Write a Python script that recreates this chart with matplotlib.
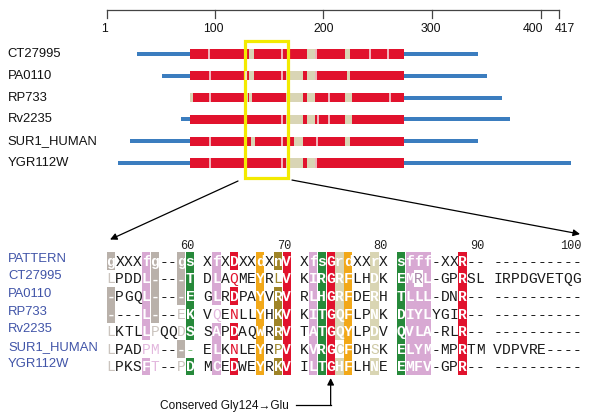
import matplotlib
matplotlib.use('Agg')
import matplotlib.pyplot as plt
from matplotlib.patches import Rectangle

# ---------------- data: domain overview ----------------
proteins = ['CT27995', 'PA0110', 'RP733', 'Rv2235', 'SUR1_HUMAN', 'YGR112W']
line_start = [29, 52, 77, 69, 22, 11]
line_end = [342, 351, 364, 372, 342, 428]
domain_start = [77.4, 77.4, 77.4, 77.4, 77.4, 77.4]
domain_end = [274, 274, 274, 274, 274, 274]
beige_segments = [
    [(132, 136), (185, 192), (220, 224.5)],
    [(131.6, 136.2), (165.5, 181), (184.7, 192.4), (221.5, 224.5)],
    [(77.4, 80.5), (129.5, 131), (132, 134.7), (165.5, 181), (184.7, 192.4), (220, 226)],
    [(165.5, 181), (184.7, 192.4), (220, 226)],
    [(133.2, 137.4), (173, 181), (220, 224.5)],
    [(165.5, 181), (184.7, 192.4)],
]
gap_positions = [
    [95, 162, 193.5, 243, 259.5],
    [95.5, 128.5, 162, 193.5],
    [95.5, 205, 261.4],
    [162, 195.5, 205],
    [95.5, 162, 194.5],
    [95.5, 162, 193.5],
]
ruler_ticks = [1, 100, 200, 300, 400, 417]
ruler_label_shift = [-2, -1, 0, -1, -7, 5]   # residue units, to keep 400/417 apart
zoom_region = (128, 167.8)

# ---------------- data: alignment ----------------
align_names = ['PATTERN', 'CT27995', 'PA0110', 'RP733', 'Rv2235', 'SUR1_HUMAN', 'YGR112W']
align_seqs = [
    'gXXXfg--gs' 'XfXDXXdXnV' 'XfsGrdXXrX' 'sfff-XXR--' '----------',
    'LPDDL----T' 'DLAQMEYRLV' 'KIRGRFLHDK' 'EMRL-GPRSL' 'IRPDGVETQG',
    '-PGQL----E' 'GLRDPAYVRV' 'RLHGRFDERH' 'TLLL-DNR--' '----------',
    '----L---EK' 'VQENLLYHKV' 'KITGQFLPNK' 'DIYLYGIR--' '----------',
    'LKTLLPQQDS' 'SAPDAQWRRV' 'TATGQYLPDV' 'QVLA-RLR--' '----------',
    'LPADPM----' 'ELKNLEYRPV' 'KVRGCFDHSK' 'ELYM-MPRTM' 'VDPVRE----',
    'LPKSFT--PD' 'MCEDWEYRKV' 'ILTGHFLHNE' 'EMFV-GPR--' '----------',
]
pos_labels = ['60', '70', '80', '90', '100']
pos_label_cols = [10, 20, 30, 40, 50]
# (column 1-based, colour class, per-row flags: B = boxed, t = tinted text, . = plain)
shading = [
    (1, 'gray', 'BtBBttt'),
    (5, 'pink', 'BBBBBtB'),
    (6, 'gray', 'BBBBt..'),
    (6, 'pink', '.....tt'),
    (9, 'gray', 'BBBttBt'),
    (10, 'green', 'BBBBBtB'),
    (12, 'pink', 'BBBtBBB'),
    (14, 'red', 'BtBtBtB'),
    (17, 'orange', 'BBBBBBB'),
    (19, 'olive', 'BtBBBtB'),
    (20, 'red', 'BBBBBBB'),
    (22, 'pink', 'BBBBBBB'),
    (23, 'green', 'BBBBBBB'),
    (24, 'red', 'BBBBBBB'),
    (25, 'beige', 'BBBBBtB'),
    (26, 'orange', 'BBBBBBB'),
    (29, 'beige', 'BBBBBtB'),
    (31, 'green', 'BBBBBBB'),
    (32, 'pink', 'BBBBBBB'),
    (33, 'pink', 'BtBBBBB'),
    (34, 'pink', 'BBBBBBB'),
    (38, 'red', 'BBBBBBB'),
]
box_colors = {'gray': '#b9b1aa', 'pink': '#d8a9d3', 'green': '#26893a', 'red': '#e1122d',
              'orange': '#f2a818', 'olive': '#9f8427', 'beige': '#d9d5b3'}
tint_colors = {'gray': '#cbc4be', 'pink': '#e3b8de', 'green': '#7fbf7f', 'red': '#e1122d',
               'orange': '#f2a818', 'olive': '#a08a30', 'beige': '#cfcaa6'}
mutation_col = 24
mutation_text = 'Conserved Gly124\u2192Glu'

SANS = ['Liberation Sans', 'DejaVu Sans']
MONO = ['Liberation Mono', 'DejaVu Sans Mono']
RED = '#e1122d'
BEIGE = '#d9d5b5'
BLUE = '#3b7dbf'
LABEL_BLUE = '#4054a8'

fig = plt.figure(figsize=(6, 4.15), dpi=100)

# ---------------- top panel ----------------
ax = fig.add_axes([0, 0, 1, 1])
ax.set_xlim(-97.4, 454.5)
ax.set_ylim(16.56, -2.477)
ax.axis('off')

ruler_y = -2.04
ax.plot([ruler_ticks[0], ruler_ticks[-1]], [ruler_y, ruler_y], color='#444444', lw=0.9)
for t, s in zip(ruler_ticks, ruler_label_shift):
    ax.plot([t, t], [ruler_y, -1.63], color='#444444', lw=0.9)
    ax.text(t + s, -1.15, str(t), ha='center', va='center', fontsize=8.8, family=SANS,
            color='#111111')

for i, name in enumerate(proteins):
    ax.text(-90.5, i, name, ha='left', va='center', fontsize=9.4, family=SANS, color='#111111')
    ax.barh(i, line_end[i] - line_start[i], left=line_start[i], height=0.18, color=BLUE, lw=0)
    ax.barh(i, domain_end[i] - domain_start[i], left=domain_start[i], height=0.42, color=RED, lw=0)
    for a, b in beige_segments[i]:
        ax.barh(i, b - a, left=a, height=0.42, color=BEIGE, lw=0)
    for g in gap_positions[i]:
        ax.plot([g, g], [i - 0.21, i + 0.21], color='#f4e6e6', lw=1.1, solid_capstyle='butt')

ax.add_patch(Rectangle((zoom_region[0], -0.61), zoom_region[1] - zoom_region[0], 6.28,
                       fill=False, edgecolor='#f3ea00', lw=2.3))

# ---------------- alignment panel ----------------
ax2 = fig.add_axes([0, 0, 1, 1])
ax2.set_xlim(-12.617, 55.643)
ax2.set_ylim(8.75, -14.83)
ax2.axis('off')


def colpos(c):
    j = c - 1
    return j + j // 10


flags = {}
for col, cls, fl in shading:
    x = colpos(col)
    for r, f in enumerate(fl):
        if f == 'B':
            ax2.add_patch(Rectangle((x - 0.47, r - 0.5), 0.94, 1.0, color=box_colors[cls], lw=0))
            flags[(r, col)] = ('B', cls)
        elif f == 't':
            flags[(r, col)] = ('t', cls)

for r, seq in enumerate(align_seqs):
    for j, ch in enumerate(seq):
        col = j + 1
        x = colpos(col)
        f = flags.get((r, col))
        if f is None:
            color, weight = '#1a1a1a', 'normal'
        elif f[0] == 'B':
            color, weight = 'white', 'bold'
        else:
            color, weight = tint_colors[f[1]], 'normal'
            if (r, col) == (1, 33):
                color = '#a887a8'
        ax2.text(x, r + 0.05, ch, ha='center', va='center', fontsize=10.5, family=MONO,
                 color=color, fontweight=weight)

for name_i, name in enumerate(align_names):
    ax2.text(-11.71, name_i - 0.12, name, ha='left', va='center', fontsize=9.4, family=SANS,
             color=LABEL_BLUE)

for lab, c in zip(pos_labels, pos_label_cols):
    ax2.text(colpos(c) + 0.5, -0.86, lab, ha='right', va='center', fontsize=8.6, family=MONO,
             color='#222222')

# zoom arrows
ax2.annotate('', xy=(-0.1, -1.22), xytext=(14.46, -4.545),
             arrowprops=dict(arrowstyle='-|>', color='black', lw=0.9, mutation_scale=10,
                             shrinkA=0, shrinkB=0))
ax2.annotate('', xy=(53.37, -1.53), xytext=(20.6, -4.6),
             arrowprops=dict(arrowstyle='-|>', color='black', lw=0.9, mutation_scale=10,
                             shrinkA=0, shrinkB=0))

# mutation annotation
mx = colpos(mutation_col)
ax2.text(20.26, 8.24, mutation_text, ha='right', va='center', fontsize=8.6, family=SANS,
         color='#111111')
ax2.plot([21.06, mx], [8.18, 8.18], color='black', lw=0.9)
ax2.annotate('', xy=(mx, 6.65), xytext=(mx, 8.18 + 0.03),
             arrowprops=dict(arrowstyle='-|>', color='black', lw=0.9, mutation_scale=10,
                             shrinkA=0, shrinkB=0))

fig.savefig('out.png', dpi=100, facecolor='white')
